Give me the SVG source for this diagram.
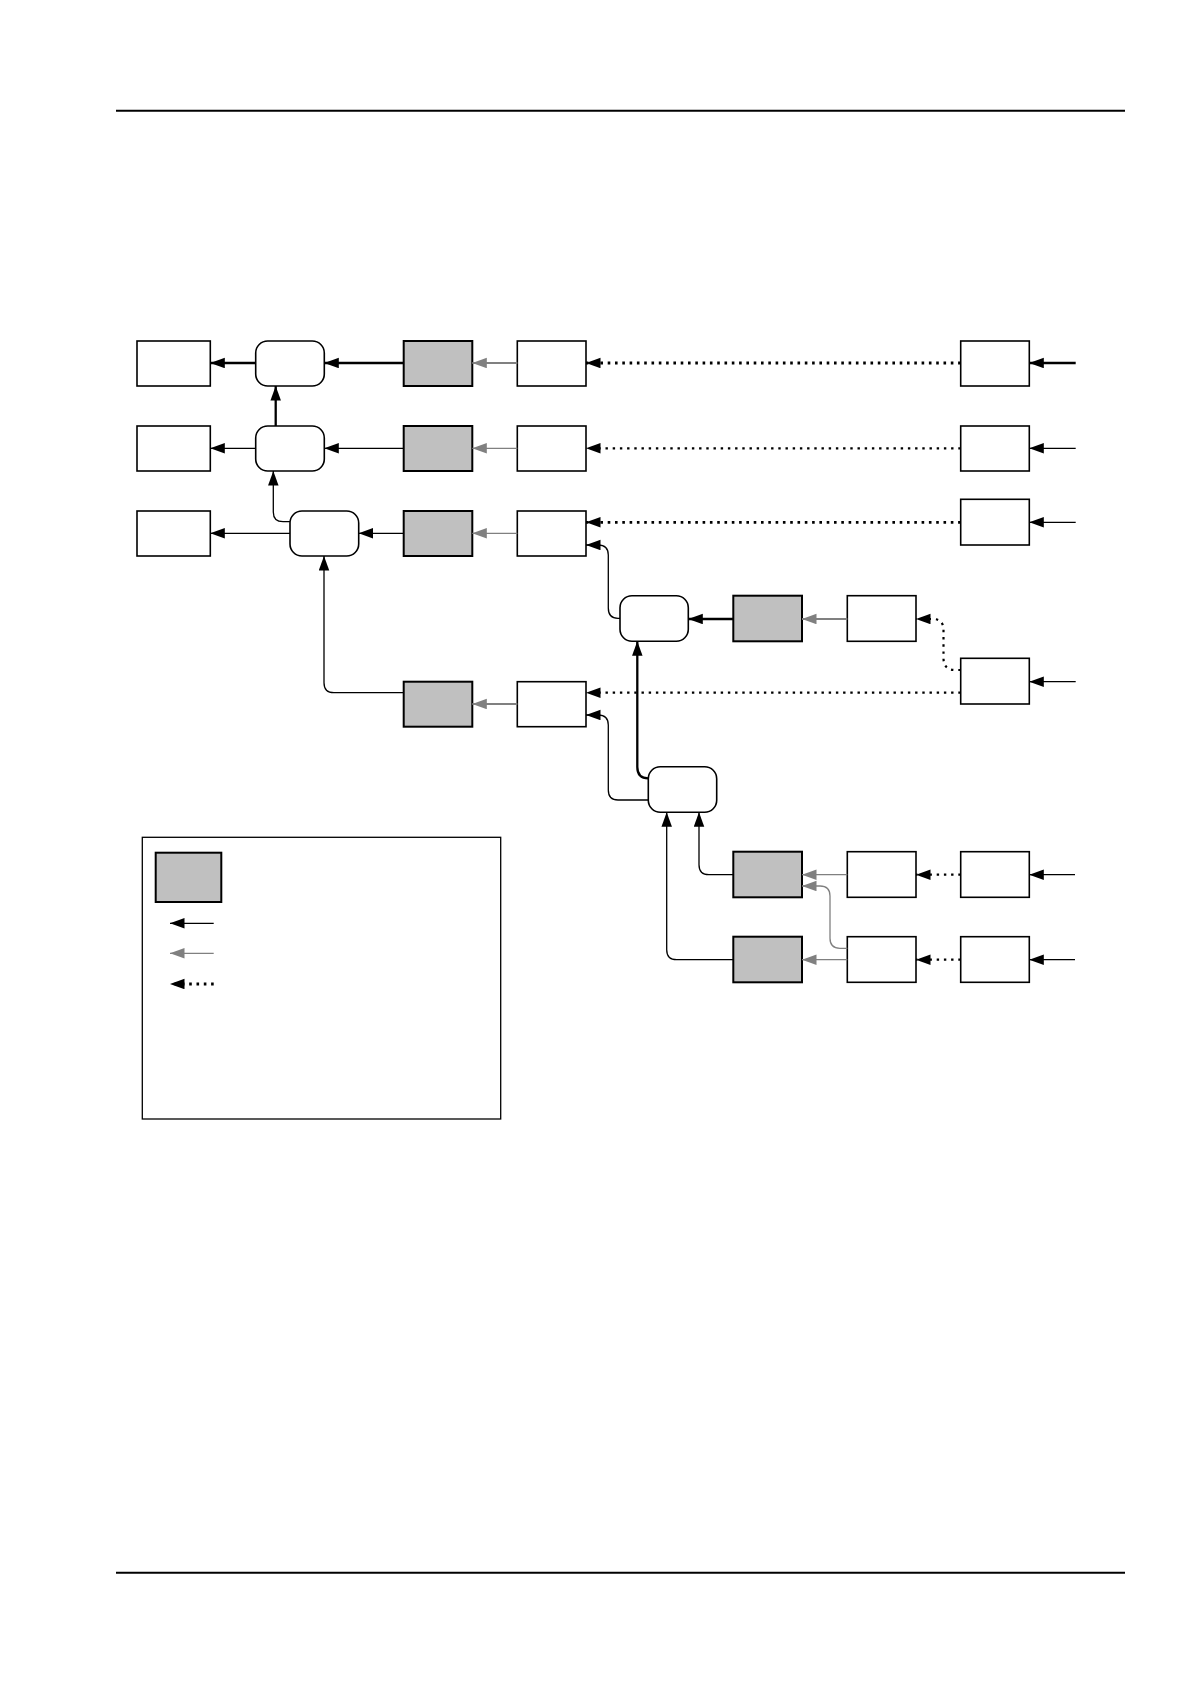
<svg xmlns="http://www.w3.org/2000/svg" width="1190" height="1684" viewBox="0 0 1190 1684">
<style>
.w{fill:#fff;stroke:#000;stroke-width:1.6}
.g{fill:#c0c0c0;stroke:#000;stroke-width:2}
.r{fill:#fff;stroke:#000;stroke-width:1.6}
.k{fill:none;stroke:#000;stroke-width:1.3}
.kt{fill:none;stroke:#000;stroke-width:2.3}
.gy{fill:none;stroke:#808080;stroke-width:1.3}
.gyt{fill:none;stroke:#808080;stroke-width:2}
.d{fill:none;stroke:#000;stroke-width:2.2;stroke-dasharray:2.4 4.8}
.dt{fill:none;stroke:#000;stroke-width:2.8;stroke-dasharray:2.6 4.7}
.rule{stroke:#000;stroke-width:2}
</style>
<defs>
<marker id="ak" markerUnits="userSpaceOnUse" markerWidth="15" markerHeight="11" refX="14.5" refY="5.25" orient="auto"><path d="M0,0 L14.5,5.25 L0,10.5 z" fill="#000"/></marker>
<marker id="ag" markerUnits="userSpaceOnUse" markerWidth="15" markerHeight="11" refX="14.5" refY="5.25" orient="auto"><path d="M0,0 L14.5,5.25 L0,10.5 z" fill="#808080"/></marker>
</defs>
<rect width="1190" height="1684" fill="#fff"/>
<line class="rule" x1="116" y1="110.7" x2="1125" y2="110.7"/>
<line class="rule" x1="116" y1="1572.7" x2="1125" y2="1572.7"/>

<g id="out1"><rect class="w" x="137" y="341" width="73.3" height="45"/></g>
<g id="out2"><rect class="w" x="137" y="426" width="73.3" height="45"/></g>
<g id="out3"><rect class="w" x="137" y="511" width="73.3" height="45"/></g>

<g id="mux1"><rect class="r" x="255.7" y="341" width="68.6" height="45" rx="12"/></g>
<g id="mux2"><rect class="r" x="255.7" y="426" width="68.6" height="45" rx="12"/></g>
<g id="mux3"><rect class="r" x="290" y="511" width="68.7" height="45" rx="12"/></g>
<g id="mux4"><rect class="r" x="620" y="595.7" width="68.3" height="45.6" rx="12"/></g>
<g id="mux5"><rect class="r" x="648.3" y="766.7" width="68.4" height="45.6" rx="12"/></g>

<g id="gray1"><rect class="g" x="403.7" y="341" width="68.6" height="45"/></g>
<g id="gray2"><rect class="g" x="403.7" y="426" width="68.6" height="45"/></g>
<g id="gray3"><rect class="g" x="403.7" y="511" width="68.6" height="45"/></g>
<g id="gray4"><rect class="g" x="733.3" y="595.7" width="68.7" height="45.6"/></g>
<g id="gray5"><rect class="g" x="403.7" y="681.7" width="68.6" height="45"/></g>
<g id="gray7"><rect class="g" x="733.3" y="851.7" width="68.7" height="45.6"/></g>
<g id="gray8"><rect class="g" x="733.3" y="936.7" width="68.7" height="45.6"/></g>

<g id="rx1"><rect class="w" x="517.3" y="341" width="68.7" height="45"/></g>
<g id="rx2"><rect class="w" x="517.3" y="426" width="68.7" height="45"/></g>
<g id="rx3"><rect class="w" x="517.3" y="511" width="68.7" height="45"/></g>
<g id="rx4"><rect class="w" x="847.3" y="595.7" width="68.7" height="45.6"/></g>
<g id="rx5"><rect class="w" x="517.3" y="681.7" width="68.7" height="45"/></g>
<g id="rx7"><rect class="w" x="847.3" y="851.7" width="68.7" height="45.6"/></g>
<g id="rx8"><rect class="w" x="847.3" y="936.7" width="68.7" height="45.6"/></g>

<g id="tx1"><rect class="w" x="960.7" y="341" width="68.6" height="45"/></g>
<g id="tx2"><rect class="w" x="960.7" y="426" width="68.6" height="45"/></g>
<g id="tx3"><rect class="w" x="960.7" y="499.3" width="68.6" height="45.7"/></g>
<g id="tx5"><rect class="w" x="960.7" y="658.3" width="68.6" height="45.7"/></g>
<g id="tx7"><rect class="w" x="960.7" y="851.7" width="68.6" height="45.6"/></g>
<g id="tx8"><rect class="w" x="960.7" y="936.7" width="68.6" height="45.6"/></g>

<g id="connectors">
<path class="kt" d="M1075.7 363 H1029.3" marker-end="url(#ak)"/>
<path class="dt" d="M960.7 363 H586" marker-end="url(#ak)"/>
<path class="gyt" d="M517.3 363 H472.3" marker-end="url(#ag)"/>
<path class="kt" d="M403.7 363 H324.3" marker-end="url(#ak)"/>
<path class="kt" d="M255.7 363 H210.3" marker-end="url(#ak)"/>
<path class="kt" d="M275.7 426 V386" marker-end="url(#ak)"/>
<path class="k" d="M1075.7 448.3 H1029.3" marker-end="url(#ak)"/>
<path class="d" d="M960.7 448.3 H586" marker-end="url(#ak)"/>
<path class="gy" d="M517.3 448.3 H472.3" marker-end="url(#ag)"/>
<path class="k" d="M403.7 448.3 H324.3" marker-end="url(#ak)"/>
<path class="k" d="M255.7 448.3 H210.3" marker-end="url(#ak)"/>
<path class="k" d="M290 521.7 H283 Q273.3 521.7 273.3 512 V471" marker-end="url(#ak)"/>
<path class="k" d="M1075.7 522.3 H1029.3" marker-end="url(#ak)"/>
<path class="dt" d="M960.7 522.3 H586" marker-end="url(#ak)"/>
<path class="gy" d="M517.3 533.3 H472.3" marker-end="url(#ag)"/>
<path class="k" d="M403.7 533.3 H358.7" marker-end="url(#ak)"/>
<path class="k" d="M290 533.3 H210.3" marker-end="url(#ak)"/>
<path class="d" d="M960.7 670 H955 Q943.5 670 943.5 658 V630 Q943.5 619 933 619 H916" marker-end="url(#ak)"/>
<path class="gyt" d="M847.3 619 H802" marker-end="url(#ag)"/>
<path class="kt" d="M733.3 619 H688.3" marker-end="url(#ak)"/>
<path class="k" d="M620 618.3 H618 Q608.3 618.3 608.3 608 V555 Q608.3 545 598 545 H586" marker-end="url(#ak)"/>
<path class="k" d="M1075.7 681.7 H1029.3" marker-end="url(#ak)"/>
<path class="d" d="M960.7 692.7 H586" marker-end="url(#ak)"/>
<path class="gyt" d="M517.3 704 H472.3" marker-end="url(#ag)"/>
<path class="k" d="M403.7 692.7 H334 Q324 692.7 324 682.7 V556" marker-end="url(#ak)"/>
<path class="k" d="M648.3 800 H618 Q608.3 800 608.3 790 V725 Q608.3 715 598 715 H586" marker-end="url(#ak)"/>
<path class="kt" d="M648.3 778.3 Q637.3 778.3 637.3 767 V641.3" marker-end="url(#ak)"/>
<path class="k" d="M1075 874.7 H1029.3" marker-end="url(#ak)"/>
<path class="d" d="M960.7 874.7 H916" marker-end="url(#ak)"/>
<path class="gy" d="M847.3 874.7 H802" marker-end="url(#ag)"/>
<path class="k" d="M733.3 874.7 H709 Q699 874.7 699 864.7 V812.3" marker-end="url(#ak)"/>
<path class="gy" d="M847.3 948.3 H840 Q830 948.3 830 938.3 V896 Q830 886 820 886 H802" marker-end="url(#ag)"/>
<path class="k" d="M1075 959.7 H1029.3" marker-end="url(#ak)"/>
<path class="d" d="M960.7 959.7 H916" marker-end="url(#ak)"/>
<path class="gy" d="M847.3 959.7 H802" marker-end="url(#ag)"/>
<path class="k" d="M733.3 959.7 H676.7 Q666.7 959.7 666.7 949.7 V812.3" marker-end="url(#ak)"/>
</g>

<g id="legend">
<rect x="142.3" y="837.3" width="358.4" height="281.7" fill="#fff" stroke="#000" stroke-width="1.3"/>
<rect class="g" x="155.7" y="852.7" width="65.6" height="49.3"/>
<path class="k" d="M213.7 923.3 H170" marker-end="url(#ak)"/>
<path class="gy" d="M213.7 953.3 H170" marker-end="url(#ag)"/>
<path class="dt" d="M213.7 984 H170" marker-end="url(#ak)"/>
</g>
</svg>
